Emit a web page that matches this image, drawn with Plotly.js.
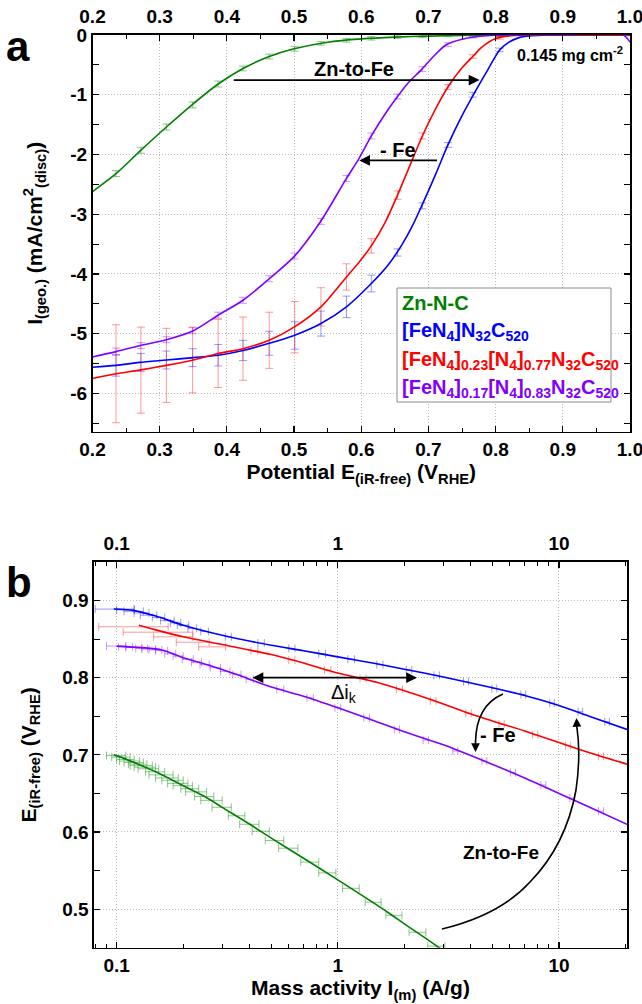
<!DOCTYPE html>
<html><head><meta charset="utf-8">
<script src="https://cdn.plot.ly/plotly-3.0.1.min.js"></script>
<style>html,body{margin:0;padding:0;background:#fff;}#chart{width:642px;height:1004px;}</style>
</head><body><div id="chart"></div>
<script>
// ---------- Panel a: LSV curves (potential V_RHE vs current density mA/cm2) ----------
const potGreen = [0.20,0.235,0.271,0.31,0.349,0.387,0.424,0.463,0.50,0.55,0.60,0.65,0.70,0.75,0.80,0.90,1.0];
const jGreen   = [-2.62,-2.32,-1.94,-1.54,-1.16,-0.82,-0.56,-0.36,-0.23,-0.12,-0.065,-0.035,-0.018,-0.008,-0.003,0,0];
const potBlue  = [0.20,0.235,0.27,0.31,0.35,0.387,0.424,0.463,0.50,0.54,0.578,0.615,0.64,0.66,0.675,0.69,0.71,0.729,0.75,0.77,0.79,0.806,0.82,0.836,0.85,0.87,0.9,1.0];
const jBlue    = [-5.56,-5.53,-5.48,-5.44,-5.40,-5.36,-5.28,-5.16,-5.03,-4.83,-4.55,-4.16,-3.85,-3.52,-3.22,-2.86,-2.35,-1.84,-1.35,-0.94,-0.55,-0.25,-0.12,-0.04,-0.015,-0.003,0,0];
const potRed   = [0.20,0.235,0.27,0.31,0.35,0.387,0.424,0.463,0.50,0.54,0.578,0.597,0.615,0.635,0.654,0.67,0.691,0.71,0.729,0.75,0.766,0.78,0.80,0.82,0.85,0.9,1.0];
const jRed     = [-5.75,-5.67,-5.61,-5.53,-5.44,-5.33,-5.25,-5.11,-4.89,-4.55,-4.05,-3.80,-3.53,-3.15,-2.68,-2.25,-1.69,-1.25,-0.87,-0.55,-0.36,-0.2,-0.06,-0.015,-0.003,0,0];
const potPurple= [0.20,0.235,0.27,0.31,0.35,0.387,0.424,0.463,0.50,0.539,0.578,0.597,0.615,0.635,0.654,0.67,0.69,0.71,0.727,0.75,0.777,0.80,0.85,0.9,0.99,1.0];
const jPurple  = [-5.39,-5.30,-5.20,-5.10,-4.95,-4.69,-4.44,-4.08,-3.71,-3.13,-2.40,-2.06,-1.69,-1.33,-1.03,-0.80,-0.575,-0.33,-0.16,-0.07,-0.02,-0.005,0,0,0,-0.12];

// error-bar sample points (panel a)
const potMarks     = [0.235,0.272,0.31,0.349,0.387,0.424,0.463,0.501,0.540,0.578,0.615,0.654,0.691,0.729,0.766,0.806];
const jGreenMarks  = [-2.32,-1.93,-1.54,-1.17,-0.82,-0.56,-0.36,-0.23,-0.14,-0.09,-0.055,-0.035,-0.02,-0.01,-0.005,0];
const jGreenErr    = [0.05,0.05,0.05,0.05,0.05,0.04,0.04,0.04,0.03,0.03,0.03,0.02,0.02,0.02,0.02,0.02];
const jBlueMarks   = [-5.53,-5.48,-5.44,-5.40,-5.36,-5.28,-5.16,-5.03,-4.83,-4.55,-4.16,-3.64,-2.86,-1.84,-1.0,-0.25];
const jBlueErr     = [0.18,0.15,0.15,0.15,0.18,0.17,0.2,0.23,0.21,0.18,0.14,0.06,0.05,0.04,0.04,0.03];
const jRedMarks    = [-5.67,-5.61,-5.53,-5.44,-5.33,-5.25,-5.11,-4.89,-4.55,-4.05,-3.53,-2.68,-1.69,-0.87,-0.36,-0.05];
const jRedErr      = [0.82,0.72,0.62,0.55,0.57,0.53,0.47,0.43,0.32,0.22,0.12,0.07,0.05,0.04,0.03,0.02];
const jPurpleMarks = [-5.30,-5.20,-5.10,-4.95,-4.69,-4.44,-4.08,-3.70,-3.12,-2.40,-1.69,-1.03,-0.57,-0.16,-0.03,-0.005];
const jPurpleErr   = [0.06,0.05,0.05,0.05,0.05,0.05,0.05,0.05,0.05,0.05,0.05,0.04,0.04,0.03,0.02,0.02];

// ---------- Panel b: mass activity (A/g) vs potential (V_RHE) ----------
const maBlue   = [0.097,0.12,0.15,0.2,0.3,0.5,0.7,1.0,1.5,2.0,3.0,5.0,7.0,10,14,20.3];
const eBlue    = [0.889,0.887,0.880,0.868,0.855,0.842,0.835,0.827,0.818,0.811,0.801,0.787,0.777,0.764,0.749,0.733];
const maRed    = [0.126,0.15,0.2,0.3,0.5,0.7,1.0,1.5,2.0,3.0,4.0,5.0,7.0,10,14,20.3];
const eRed     = [0.868,0.862,0.853,0.843,0.830,0.819,0.806,0.794,0.783,0.766,0.753,0.744,0.731,0.716,0.702,0.688];
const maPurple = [0.1,0.13,0.16,0.2,0.27,0.35,0.5,0.7,1.0,1.5,2.0,3.0,4.5,7.0,10,14,20.3];
const ePurple  = [0.841,0.839,0.836,0.826,0.815,0.804,0.788,0.776,0.761,0.743,0.730,0.713,0.693,0.670,0.650,0.631,0.610];
const maGreen  = [0.097,0.1,0.12,0.15,0.2,0.25,0.3,0.4,0.5,0.7,1.0,1.4,1.7,2.0,2.5,2.9,3.2];
const eGreen   = [0.700,0.699,0.690,0.678,0.660,0.646,0.632,0.610,0.592,0.566,0.538,0.511,0.495,0.481,0.462,0.449,0.440];

// error-bar sample points (panel b, horizontal errors in A/g)
const maBlueMarks  = [0.1,0.11,0.12,0.13,0.14,0.155,0.17,0.185,0.2,0.22,0.25,0.32,0.45,0.62,0.85,1.15,1.55,2.1,2.8,3.8,5.1,6.9,9.3,12.5,16.5];
const eBlueMarks   = [0.889,0.888,0.886,0.884,0.881,0.878,0.874,0.871,0.868,0.864,0.860,0.853,0.845,0.838,0.831,0.824,0.817,0.810,0.803,0.795,0.786,0.778,0.767,0.756,0.743];
const maBlueErr    = [0.02,0.01,0.012,0.01,0.012,0.01,0.012,0.01,0.012,0.01,0.01,0.01,0.015,0.02,0.03,0.04,0.05,0.06,0.08,0.1,0.13,0.17,0.22,0.3,0.4];
const maRedMarks   = [0.127,0.164,0.184,0.224,0.273,0.42,0.62,0.9,1.3,1.9,2.7,3.9,5.5,7.8,11,15.5];
const eRedMarks    = [0.866,0.859,0.853,0.846,0.840,0.835,0.823,0.810,0.799,0.785,0.770,0.754,0.740,0.726,0.712,0.698];
const maRedErr     = [0.044,0.057,0.037,0.038,0.038,0.015,0.02,0.03,0.04,0.06,0.08,0.11,0.15,0.22,0.3,0.4];
const maPurpleMarks= [0.1,0.11,0.12,0.13,0.14,0.15,0.16,0.175,0.19,0.21,0.23,0.25,0.28,0.31,0.35,0.4,0.55,0.75,1.0,1.35,1.85,2.5,3.4,4.6,6.2,8.5,11.5,15.5];
const ePurpleMarks = [0.841,0.840,0.839,0.838,0.837,0.836,0.835,0.831,0.828,0.824,0.820,0.817,0.813,0.808,0.804,0.798,0.785,0.774,0.761,0.748,0.733,0.719,0.705,0.692,0.677,0.661,0.644,0.627];
const maPurpleErr  = [0.01,0.008,0.01,0.008,0.01,0.01,0.01,0.01,0.01,0.012,0.012,0.012,0.015,0.015,0.015,0.015,0.02,0.025,0.03,0.04,0.05,0.07,0.09,0.12,0.16,0.22,0.3,0.4];
const maGreenMarks = [0.1,0.105,0.11,0.115,0.12,0.125,0.13,0.135,0.14,0.15,0.16,0.17,0.18,0.19,0.2,0.215,0.23,0.25,0.27,0.3,0.35,0.4,0.45,0.52,0.6,0.75,0.9,1.15,1.45,1.8,2.3,2.8];
const eGreenMarks  = [0.699,0.697,0.694,0.692,0.690,0.688,0.686,0.684,0.682,0.678,0.674,0.670,0.667,0.663,0.660,0.656,0.652,0.646,0.641,0.632,0.621,0.610,0.601,0.589,0.579,0.561,0.547,0.527,0.509,0.492,0.470,0.452];
const maGreenErr   = [0.01,0.01,0.01,0.012,0.012,0.012,0.015,0.015,0.015,0.015,0.02,0.02,0.02,0.02,0.02,0.02,0.025,0.025,0.03,0.03,0.03,0.04,0.04,0.05,0.06,0.07,0.08,0.1,0.12,0.15,0.2,0.25];

// ---------- labels / ticks ----------
const seriesNames = ['Zn-N-C','[FeN<sub>4</sub>]N<sub>32</sub>C<sub>520</sub>','[FeN<sub>4</sub>]<sub>0.23</sub>[N<sub>4</sub>]<sub>0.77</sub>N<sub>32</sub>C<sub>520</sub>','[FeN<sub>4</sub>]<sub>0.17</sub>[N<sub>4</sub>]<sub>0.83</sub>N<sub>32</sub>C<sub>520</sub>'];
const colors = ['#008000','#0000ff','#ff0000','#8000ff'];
const errColors = ['rgba(0,128,0,0.45)','rgba(0,0,255,0.4)','rgba(255,0,0,0.4)','rgba(128,0,255,0.4)'];
const aXTickVals = [0.2,0.3,0.4,0.5,0.6,0.7,0.8,0.9,1.0];
const aXTickText = ['0.2','0.3','0.4','0.5','0.6','0.7','0.8','0.9','1.0'];
const aYTickVals = [0,-1,-2,-3,-4,-5,-6];
const aYTickText = ['0','-1','-2','-3','-4','-5','-6'];
const bXTickVals = [0.1,1,10];
const bXTickText = ['0.1','1','10'];
const bXMinor = [0.08,0.09,0.2,0.3,0.4,0.5,0.6,0.7,0.8,0.9,2,3,4,5,6,7,8,9,20];
const bYTickVals = [0.5,0.6,0.7,0.8,0.9];
const bYTickText = ['0.5','0.6','0.7','0.8','0.9'];

const W = 642, H = 1004;
const PX = v => v / W, PY = v => 1 - v / H;
const FONT = "'Liberation Sans', Arial, sans-serif";
const tickFont = {family: FONT, size: 19, weight: 'bold', color: '#000'};
const titleFont = {family: FONT, size: 21, weight: 'bold', color: '#000'};

function lineTrace(x, y, c, xa, ya, name) {
  return {x, y, xaxis: xa, yaxis: ya, type: 'scatter', mode: 'lines', name,
    line: {color: c, width: 1.6, shape: 'spline', smoothing: 0.8}, hoverinfo: 'skip'};
}
function errYTrace(x, y, e, c, xa, ya) {
  return {x, y, xaxis: xa, yaxis: ya, type: 'scatter', mode: 'markers',
    marker: {size: 2, opacity: 0}, showlegend: false, hoverinfo: 'skip',
    error_y: {type: 'data', array: e, visible: true, color: c, thickness: 1, width: 4}};
}
function errXTrace(x, y, e, c, xa, ya) {
  return {x, y, xaxis: xa, yaxis: ya, type: 'scatter', mode: 'markers',
    marker: {size: 2, opacity: 0}, showlegend: false, hoverinfo: 'skip',
    error_x: {type: 'data', array: e, visible: true, color: c, thickness: 1, width: 4}};
}
// invisible carriers so the top (mirror) axes get drawn with their labels
function carrier(x, y, xa, ya) {
  return {x, y, xaxis: xa, yaxis: ya, type: 'scatter', mode: 'lines', line: {width: 0, color: 'rgba(0,0,0,0)'},
    showlegend: false, hoverinfo: 'skip'};
}

const traces = [
  carrier(potGreen, jGreen, 'x3', 'y'),
  carrier(maGreen, eGreen, 'x4', 'y2'),
  errYTrace(potMarks, jGreenMarks, jGreenErr, errColors[0], 'x', 'y'),
  errYTrace(potMarks, jBlueMarks, jBlueErr, errColors[1], 'x', 'y'),
  errYTrace(potMarks, jRedMarks, jRedErr, errColors[2], 'x', 'y'),
  errYTrace(potMarks, jPurpleMarks, jPurpleErr, errColors[3], 'x', 'y'),
  lineTrace(potGreen, jGreen, colors[0], 'x', 'y', 'Zn-N-C'),
  lineTrace(potBlue, jBlue, colors[1], 'x', 'y', seriesNames[1]),
  lineTrace(potRed, jRed, colors[2], 'x', 'y', seriesNames[2]),
  lineTrace(potPurple, jPurple, colors[3], 'x', 'y', seriesNames[3]),
  errXTrace(maGreenMarks, eGreenMarks, maGreenErr, errColors[0], 'x2', 'y2'),
  errXTrace(maBlueMarks, eBlueMarks, maBlueErr, errColors[1], 'x2', 'y2'),
  errXTrace(maRedMarks, eRedMarks, maRedErr, errColors[2], 'x2', 'y2'),
  errXTrace(maPurpleMarks, ePurpleMarks, maPurpleErr, errColors[3], 'x2', 'y2'),
  lineTrace(maGreen, eGreen, colors[0], 'x2', 'y2', 'Zn-N-C'),
  lineTrace(maBlue, eBlue, colors[1], 'x2', 'y2', seriesNames[1]),
  lineTrace(maRed, eRed, colors[2], 'x2', 'y2', seriesNames[2]),
  lineTrace(maPurple, ePurple, colors[3], 'x2', 'y2', seriesNames[3])
];

const frame = {showline: true, linecolor: '#000', linewidth: 1.6, mirror: 'allticks',
  ticks: 'inside', ticklen: 6, tickwidth: 1.2, tickcolor: '#000', zeroline: false,
  showgrid: true, gridcolor: '#bdbdbd', griddash: '1px,2px', gridwidth: 1, tickfont: tickFont,
  ticklabeloverflow: 'allow', fixedrange: true};
const minorT = {ticks: 'inside', ticklen: 3.5, tickwidth: 1, tickcolor: '#000', showgrid: false};
const topAx = {showline: false, ticks: '', showgrid: false, zeroline: false, tickfont: tickFont,
  ticklabelstandoff: 7, ticklabeloverflow: 'allow', fixedrange: true};

const aDomX = [PX(92.5), PX(630)], aDomY = [PY(431.7), PY(35)];
const bDomX = [PX(94), PX(627)], bDomY = [PY(947.7), PY(562)];
const aRangeX = [0.2, 1.0];
const bRange = [Math.log10(0.079), Math.log10(20.3)];

const layout = {
  width: W, height: H, margin: {l: 0, r: 0, t: 0, b: 0, pad: 0},
  paper_bgcolor: '#fff', plot_bgcolor: 'rgba(0,0,0,0)', showlegend: false,
  font: {family: FONT, size: 20, color: '#000'},
  xaxis: Object.assign({}, frame, {domain: aDomX, anchor: 'y', range: aRangeX, tickmode: 'array', tickvals: aXTickVals, ticktext: aXTickText,
    minor: Object.assign({dtick: 0.05, tick0: 0.2}, minorT),
    title: {text: 'Potential E<sub>(iR-free)</sub> (V<sub>RHE</sub>)', font: titleFont, standoff: 0}}),
  xaxis3: Object.assign({}, topAx, {overlaying: 'x', side: 'top', anchor: 'y', range: aRangeX, tickmode: 'array', tickvals: aXTickVals, ticktext: aXTickText}),
  yaxis: Object.assign({}, frame, {domain: aDomY, anchor: 'x', range: [-6.64, 0], tickmode: 'array', tickvals: aYTickVals, ticktext: aYTickText,
    minor: Object.assign({dtick: 0.5, tick0: 0}, minorT),
    title: {text: 'I<sub>(geo.)</sub> (mA/cm<sup>2</sup><sub>(disc)</sub>)', font: titleFont, standoff: 22}}),
  xaxis2: Object.assign({}, frame, {domain: bDomX, anchor: 'y2', type: 'log', range: bRange, tickmode: 'array', tickvals: bXTickVals, ticktext: bXTickText,
    minor: Object.assign({tickmode: 'array', tickvals: bXMinor}, minorT),
    title: {text: 'Mass activity I<sub>(m)</sub> (A/g)', font: titleFont, standoff: 0}}),
  xaxis4: Object.assign({}, topAx, {overlaying: 'x2', side: 'top', anchor: 'y2', type: 'log', range: bRange, tickmode: 'array', tickvals: bXTickVals, ticktext: bXTickText}),
  yaxis2: Object.assign({}, frame, {domain: bDomY, anchor: 'x2', range: [0.45, 0.95], tickmode: 'array', tickvals: bYTickVals, ticktext: bYTickText,
    minor: Object.assign({dtick: 0.05, tick0: 0.45}, minorT),
    title: {text: 'E<sub>(iR-free)</sub> (V<sub>RHE</sub>)', font: titleFont, standoff: 20}}),
  shapes: [
    {type: 'rect', xref: 'paper', yref: 'paper', x0: PX(397), x1: PX(611), y0: PY(402), y1: PY(288),
      line: {color: '#8c8c8c', width: 1}, fillcolor: 'rgba(255,255,255,1)', layer: 'above'},
    {type: 'path', xref: 'paper', yref: 'paper', layer: 'above',
      path: `M ${PX(503)},${PY(694)} C ${PX(489)},${PY(700)} ${PX(476)},${PY(712)} ${PX(475.5)},${PY(742)}`,
      line: {color: '#000', width: 1.6}},
    {type: 'path', xref: 'paper', yref: 'paper', layer: 'above',
      path: `M ${PX(442)},${PY(929)} Q ${PX(500)},${PY(915)} ${PX(530)},${PY(882)} Q ${PX(566)},${PY(845)} ${PX(576)},${PY(790)} Q ${PX(581)},${PY(755)} ${PX(577)},${PY(728)}`,
      line: {color: '#000', width: 1.6}}
  ],
  annotations: [
    {xref: 'paper', yref: 'paper', x: PX(4), y: PY(47), xanchor: 'left', yanchor: 'middle', text: '<b>a</b>', showarrow: false,
      font: {family: FONT, size: 42, color: '#000'}},
    {xref: 'paper', yref: 'paper', x: PX(4), y: PY(582), xanchor: 'left', yanchor: 'middle', text: '<b>b</b>', showarrow: false,
      font: {family: FONT, size: 42, color: '#000'}},
    // panel a
    {xref: 'x', yref: 'y', x: 0.9106, y: -0.32, text: '0.145 mg cm<sup>-2</sup>', showarrow: false,
      font: {family: FONT, size: 16, weight: 'bold', color: '#000'}},
    {xref: 'x', yref: 'y', x: 0.589, y: -0.57, text: 'Zn-to-Fe', showarrow: false,
      font: {family: FONT, size: 20, weight: 'bold', color: '#000'}},
    {xref: 'x', yref: 'y', x: 0.776, y: -0.754, axref: 'x', ayref: 'y', ax: 0.408, ay: -0.754, text: '',
      showarrow: true, arrowhead: 2, arrowsize: 1.2, arrowwidth: 1.8, arrowcolor: '#000'},
    {xref: 'x', yref: 'y', x: 0.655, y: -1.93, text: '- Fe', showarrow: false,
      font: {family: FONT, size: 20, weight: 'bold', color: '#000'}},
    {xref: 'x', yref: 'y', x: 0.597, y: -2.1, axref: 'x', ayref: 'y', ax: 0.715, ay: -2.1, text: '',
      showarrow: true, arrowhead: 2, arrowsize: 1.2, arrowwidth: 1.8, arrowcolor: '#000'},
    // legend entries
    ...seriesNames.map((t, i) => ({xref: 'paper', yref: 'paper', x: PX(400), y: PY(303 + i * 28.5), xanchor: 'left', yanchor: 'middle',
      text: t, showarrow: false, font: {family: FONT, size: 20, weight: 'bold', color: colors[i]}})),
    // panel b
    {xref: 'x2', yref: 'y2', x: Math.log10(1.07), y: 0.779, text: '\u0394i<sub>k</sub>', showarrow: false,
      font: {family: FONT, size: 20, color: '#000'}},
    {xref: 'x2', yref: 'y2', x: Math.log10(2.28), y: 0.8, axref: 'x2', ayref: 'y2', ax: Math.log10(0.405), ay: 0.8, text: '',
      showarrow: true, arrowside: 'end+start', arrowhead: 2, startarrowhead: 2, arrowsize: 1.2, startarrowsize: 1.2, arrowwidth: 1.8, arrowcolor: '#000'},
    {xref: 'x2', yref: 'y2', x: Math.log10(5.3), y: 0.726, text: '- Fe', showarrow: false,
      font: {family: FONT, size: 20, weight: 'bold', color: '#000'}},
    {xref: 'paper', yref: 'paper', x: PX(475.5), y: PY(752), ax: 0, ay: -12, text: '',
      showarrow: true, arrowhead: 2, arrowsize: 1.1, arrowwidth: 1.6, arrowcolor: '#000'},
    {xref: 'x2', yref: 'y2', x: Math.log10(5.45), y: 0.574, text: 'Zn-to-Fe', showarrow: false,
      font: {family: FONT, size: 19, weight: 'bold', color: '#000'}},
    {xref: 'paper', yref: 'paper', x: PX(576.5), y: PY(718), ax: 0.5, ay: 12, text: '',
      showarrow: true, arrowhead: 2, arrowsize: 1.1, arrowwidth: 1.6, arrowcolor: '#000'}
  ]
};

Plotly.newPlot('chart', traces, layout, {staticPlot: true});
</script>
</body></html>
